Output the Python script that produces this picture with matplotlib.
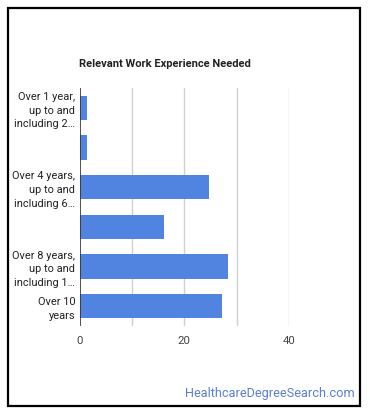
import matplotlib
matplotlib.use("Agg")
import matplotlib.pyplot as plt
from matplotlib.patches import Rectangle

categories = [
    "Over 1 year,\nup to and\nincluding 2…",
    "",
    "Over 4 years,\nup to and\nincluding 6…",
    "",
    "Over 8 years,\nup to and\nincluding 1…",
    "Over 10\nyears",
]
values = [1.5, 1.5, 24.8, 16.2, 28.3, 27.3]
xticks = [0, 20, 40]
grid_x = [10, 20, 30, 40]
title = "Relevant Work Experience Needed"
watermark = "HealthcareDegreeSearch.com"

plt.rcParams['font.family'] = ['Roboto', 'DejaVu Sans']

W, H = 370, 417
fig = plt.figure(figsize=(W / 100, H / 100), dpi=100)
fig.patch.set_facecolor("white")

# outer border
fig.add_artist(Rectangle((8 / W, 1 - 406 / H), (360 - 8) / W, (406 - 8) / H,
                         transform=fig.transFigure, fill=False,
                         edgecolor="black", linewidth=1.6))

ax = fig.add_axes([79.5 / W, 1 - 326 / H, (289 - 79.5) / W, (326 - 88) / H])
y = list(range(len(categories)))
ax.barh(y, values, height=0.62, color="#5084e0", zorder=3)
ax.set_ylim(len(categories) - 0.5, -0.5)
ax.set_xlim(0, 40)

for g in grid_x:
    ax.axvline(g, color="#d0d0d0", linewidth=1, zorder=1)
ax.axvline(0, color="#333333", linewidth=1.2, zorder=4)

ax.set_xticks(xticks)
ax.set_xticklabels([str(t) for t in xticks], fontsize=8.2, color="#444444")
ax.set_yticks(y)
ax.set_yticklabels(categories, fontsize=7.9, color="#222222", linespacing=1.45)
ax.tick_params(axis="both", length=0)
ax.tick_params(axis="x", pad=7)
ax.tick_params(axis="y", pad=3)
for s in ax.spines.values():
    s.set_visible(False)

fig.text(79 / W, 1 - 64 / H, title, fontsize=8, fontweight="bold",
         color="#222222", ha="left", va="center")
fig.text(355 / W, 1 - 394 / H, watermark, fontsize=9.2, color="#5b7fd4",
         ha="right", va="center")

fig.savefig("out.png", dpi=100, facecolor="white")
